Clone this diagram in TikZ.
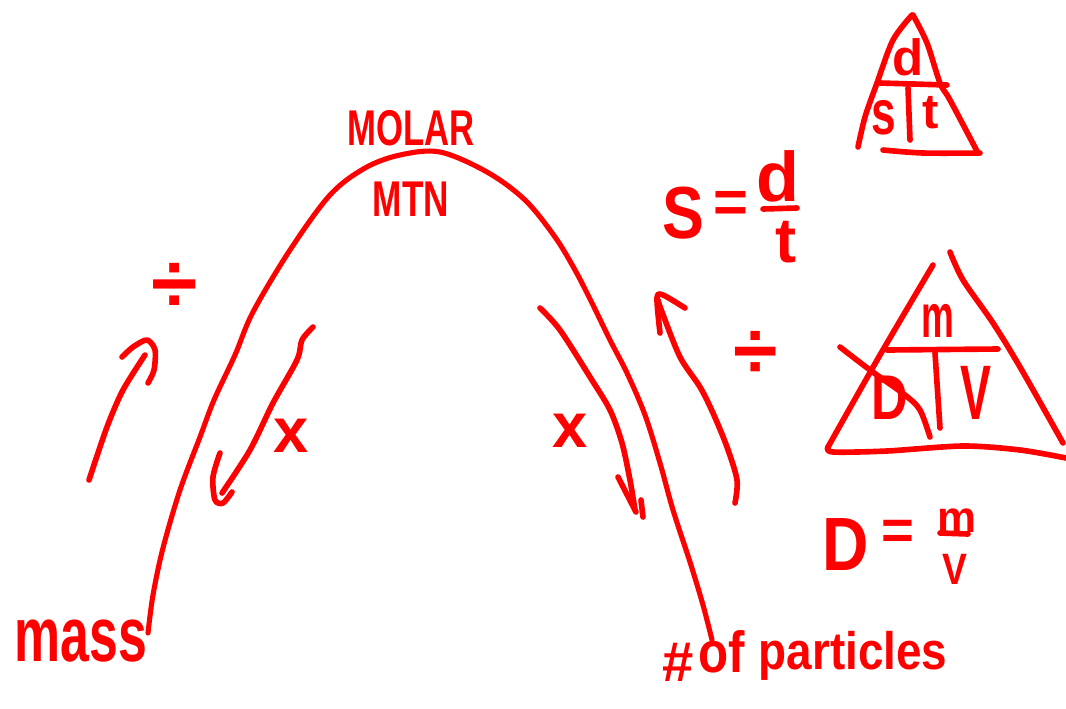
\documentclass[tikz,border=0pt]{standalone}
\usepackage{fontspec}
\setmainfont{Liberation Sans}
\definecolor{penred}{RGB}{255,0,0}
\newcommand{\hsz}[1]{\fontsize{#1}{#1}\selectfont\bfseries}
\begin{document}
\begin{tikzpicture}[x=0.02cm,y=-0.02cm,
  ink/.style={draw=penred, line width=3.2pt, line cap=round, line join=round},
  thin ink/.style={ink, line width=2.9pt},
  hand/.style={text=penred, inner sep=0pt, outer sep=0pt}]
\useasboundingbox[fill=white] (0,0) rectangle (1066,708);

% main arch
\draw[thin ink] plot[smooth, tension=0.55] coordinates {(148,633) (153,595) (163,548) (180,490) (200,437) (214,400) (235,355) (253,312) (290,250) (330,195) (365,168) (400,155) (440,152) (487,172) (525,200) (555,237) (575,270) (592,303) (610,340) (627,373) (645,415) (660,463) (673,510) (690,562) (703,605) (712,640)};

\node[hand, font=\hsz{28.6}] (molar) at (411,128) {\scalebox{0.69}[1]{MOLAR}};
\node[hand, font=\hsz{28.6}] (mtn) at (411,199) {\scalebox{0.7}[1]{MTN}};

% left up arrow
\draw[ink] plot[smooth] coordinates {(89,480) (107,427) (123,390) (145,355)};
\draw[ink] plot[smooth] coordinates {(122,357) (133,347) (147,340) (155,350) (154,370) (148,383)};
\node[hand, font=\hsz{48}] (divl) at (175,288) {÷};

% left down arrow
\draw[ink] plot[smooth] coordinates {(313,327) (302,340) (297,360) (273,403) (250,450) (222,493)};
\draw[ink] plot[smooth] coordinates {(220,453) (213,477) (215,500) (223,503) (232,492)};
\node[hand, font=\hsz{36}] (xl) at (291,436) {x};

% right down arrow
\draw[ink] plot[smooth] coordinates {(540,308) (560,330) (590,377) (610,410) (622,443) (630,480) (635,510)};
\draw[ink] (618,477) -- (636,512);
\draw[ink] (641,500) -- (643,517);
\node[hand, font=\hsz{36}] (xr) at (570,431) {x};

% right up arrow
\draw[ink] plot[smooth] coordinates {(735,503) (737,480) (727,447) (713,413) (700,387) (680,357) (662,312) (658,300)};
\draw[ink] plot[smooth] coordinates {(660,333) (657,298) (663,295) (685,308)};
\node[hand, font=\hsz{46}] (divr) at (756,355) {÷};

% top-right triangle d / s t
\draw[ink] plot[smooth] coordinates {(858,147) (865,117) (877,83) (893,40) (912,15)};
\draw[ink] plot[smooth] coordinates {(913,15) (927,43) (940,83) (950,100) (978,153)};
\draw[ink] plot[smooth] coordinates {(883,150) (923,153) (980,153)};
\draw[ink] (880,83) -- (947,85);
\draw[ink] (908,88) -- (910,140);
\node[hand, font=\hsz{29}] (td) at (908,57) {d};
\node[hand, font=\hsz{36}] (ts) at (884,118) {\scalebox{0.7}[1]{s}};
\node[hand, font=\hsz{28}] (tt) at (931,113) {t};

% S = d/t
\node[hand, font=\hsz{42}] (bigS) at (683,213) {\scalebox{0.85}[1]{S}};
\node[hand, font=\hsz{34}] (eq1) at (731,207) {=};
\node[hand, font=\hsz{40}] (fd) at (778,176) {d};
\draw[ink] (763,209) -- (797,208);
\node[hand, font=\hsz{36}] (ft) at (786,242) {t};

% big triangle m / D V
\draw[ink] plot[smooth] coordinates {(933,265) (880,355) (828,447)};
\draw[ink] plot[smooth] coordinates {(950,252) (963,280) (993,323) (1020,367) (1063,443)};
\draw[ink] plot[smooth] coordinates {(828,447) (833,452) (887,451) (963,446) (1020,450) (1066,458)};
\draw[ink] (887,350) -- (998,349);
\draw[ink] (935,353) -- (940,428);
\draw[ink] plot[smooth] coordinates {(840,347) (870,370) (905,395) (920,410) (930,437)};
\node[hand, font=\hsz{35}] (bm) at (938,321) {\scalebox{0.6}[1]{m}};
\node[hand, font=\hsz{36}] (bD) at (890,398) {\scalebox{0.8}[1]{D}};
\node[hand, font=\hsz{44}] (bV) at (976,393) {\scalebox{0.6}[1]{V}};

% D = m/V
\node[hand, font=\hsz{43}] (dD) at (846,545) {\scalebox{0.85}[1]{D}};
\node[hand, font=\hsz{32}] (eq2) at (898,535) {=};
\node[hand, font=\hsz{25}] (dm) at (957,521) {m};
\draw[ink] (940,533) -- (968,534);
\node[hand, font=\hsz{25}] (dV) at (955,569) {\scalebox{0.85}[1]{V}};

% bottom labels
\node[hand, font=\hsz{44}] (mass) at (81,641) {\scalebox{0.67}[1]{mass}};
\node[hand, font=\hsz{32}] (hash) at (678,662) {\#};
\node[hand, font=\hsz{33}] (of) at (722,652) {\scalebox{0.85}[1]{of}};
\node[hand, font=\hsz{30}] (particles) at (853,656) {\scalebox{0.87}[1]{particles}};
\end{tikzpicture}
\end{document}
